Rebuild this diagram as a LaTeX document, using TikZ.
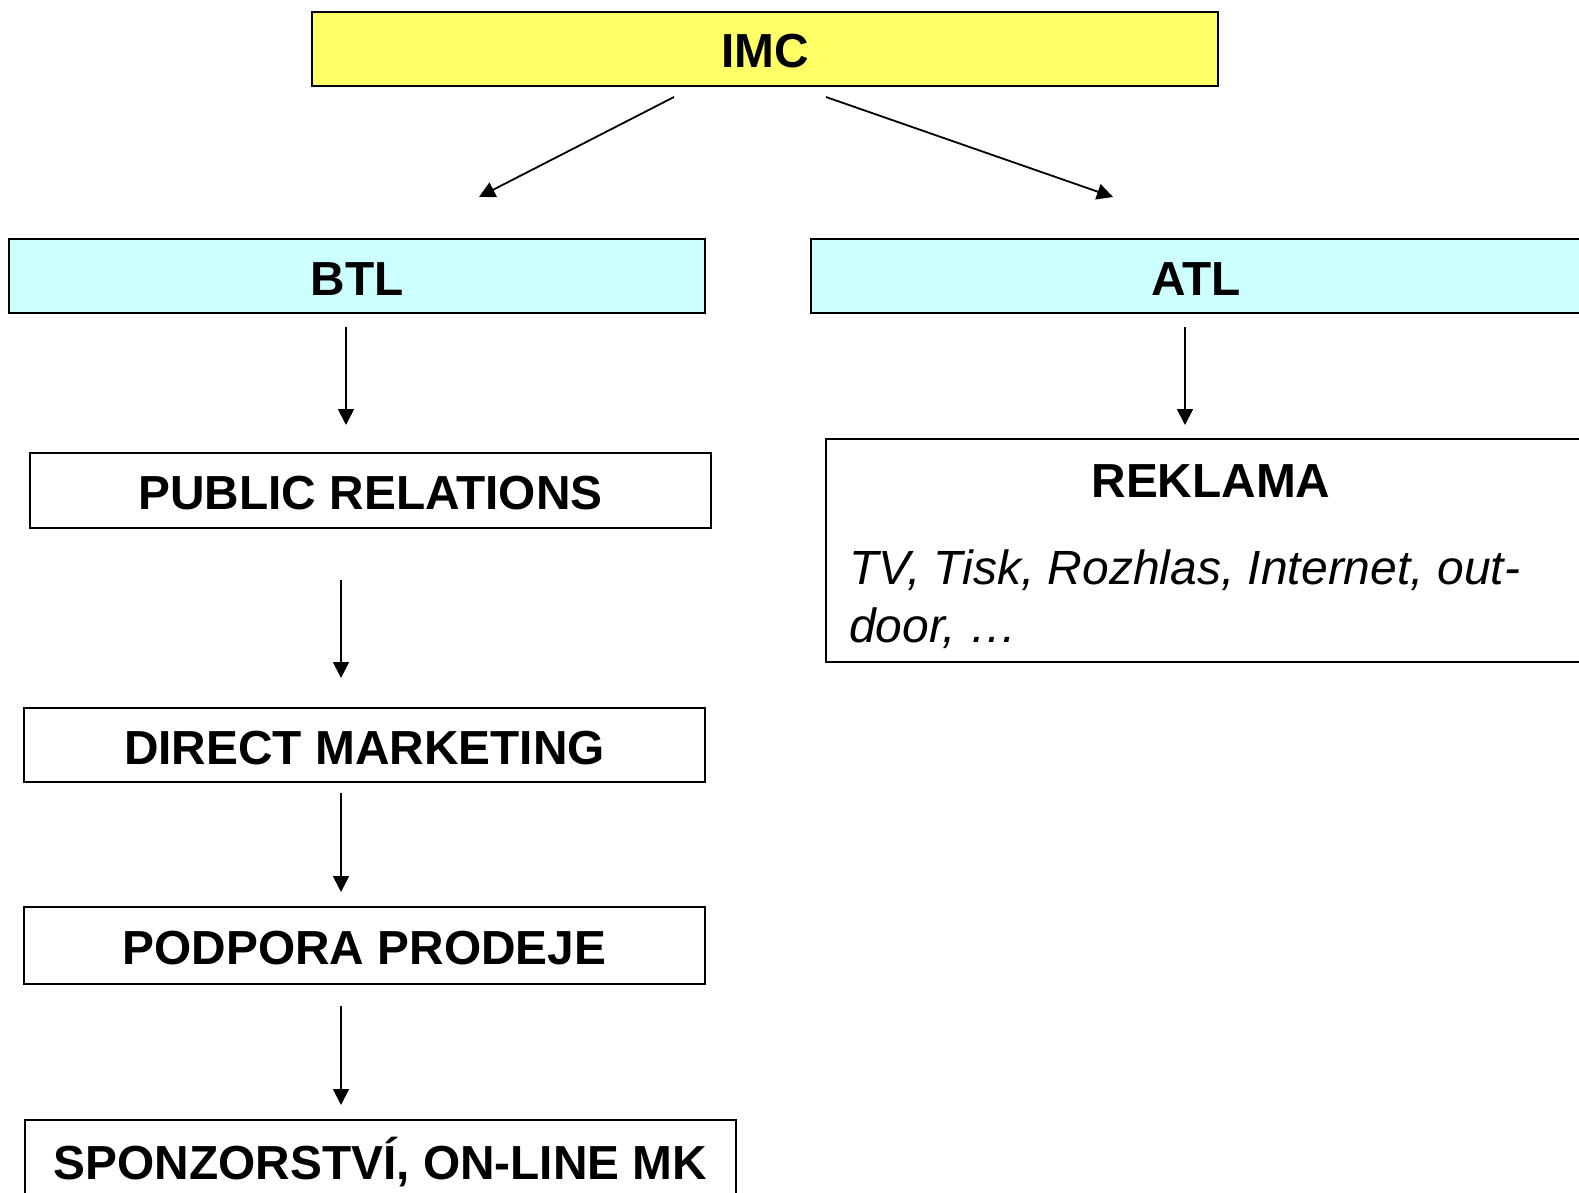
\documentclass[tikz,border=0pt]{standalone}
\usepackage{fontspec}
\setmainfont{Liberation Sans}
\usetikzlibrary{arrows.meta}
\definecolor{imcyellow}{HTML}{FFFF66}
\definecolor{tlcyan}{HTML}{CCFFFF}
\begin{document}
\begin{tikzpicture}[x=1pt,y=-1pt,
  box/.style={draw=black, line width=1.6pt, inner sep=0pt, rectangle,
    font=\fontsize{47.8}{56}\selectfont\bfseries, text height=38pt, text depth=0pt},
  conn/.style={line width=1.8pt, -{Triangle[length=16pt,width=16pt]}},
  itxt/.style={anchor=base west, inner sep=0pt, font=\fontsize{48}{58}\selectfont\itshape}
]
\useasboundingbox (0,0) rectangle (1579,1193);
\clip (0,0) rectangle (1579,1193);
\fill[white] (0,0) rectangle (1579,1193);

\node[box, fill=imcyellow, minimum width=906pt, minimum height=74pt] (imc) at (765,49) {IMC};
\node[box, fill=tlcyan, minimum width=696pt, minimum height=74pt] (btl) at (357,276) {BTL};
\node[box, fill=tlcyan, minimum width=770pt, minimum height=74pt] (atl) at (1196,276) {ATL};
\node[box, minimum width=681pt, minimum height=75pt] (pr) at (370.5,490.5) {PUBLIC RELATIONS};
\node[box, minimum width=681pt, minimum height=74pt] (dm) at (364.5,745) {DIRECT MARKETING};
\node[box, minimum width=681pt, minimum height=77pt] (pp) at (364.5,945.5) {PODPORA PRODEJE};
\node[box, minimum width=711pt, minimum height=80pt] (sp) at (380.5,1160) {SPONZORSTVÍ, ON-LINE MK};
\node[box, minimum width=770pt, minimum height=223pt] (rek) at (1211,550.5) {};
\node[anchor=base, inner sep=0pt, font=\fontsize{47.8}{56}\selectfont\bfseries] (rekhead) at (1211,497) {REKLAMA};
\node[itxt] (rekl1) at (849,584) {TV, Tisk, Rozhlas, Internet, out-};
\node[itxt] (rekl2) at (849,642.5) {door, …};

\coordinate (a1s) at (674,97);  \coordinate (a1e) at (479,197);
\coordinate (a2s) at (826,97);  \coordinate (a2e) at (1113,197);
\coordinate (a3s) at (346,327); \coordinate (a3e) at (346,425);
\coordinate (a4s) at (1185,327); \coordinate (a4e) at (1185,425);
\coordinate (a5s) at (341,580); \coordinate (a5e) at (341,678);
\coordinate (a6s) at (341,793); \coordinate (a6e) at (341,892);
\coordinate (a7s) at (341,1006); \coordinate (a7e) at (341,1105);

\draw[conn] (a1s) -- (a1e);
\draw[conn] (a2s) -- (a2e);
\draw[conn] (a3s) -- (a3e);
\draw[conn] (a4s) -- (a4e);
\draw[conn] (a5s) -- (a5e);
\draw[conn] (a6s) -- (a6e);
\draw[conn] (a7s) -- (a7e);
\end{tikzpicture}
\end{document}
